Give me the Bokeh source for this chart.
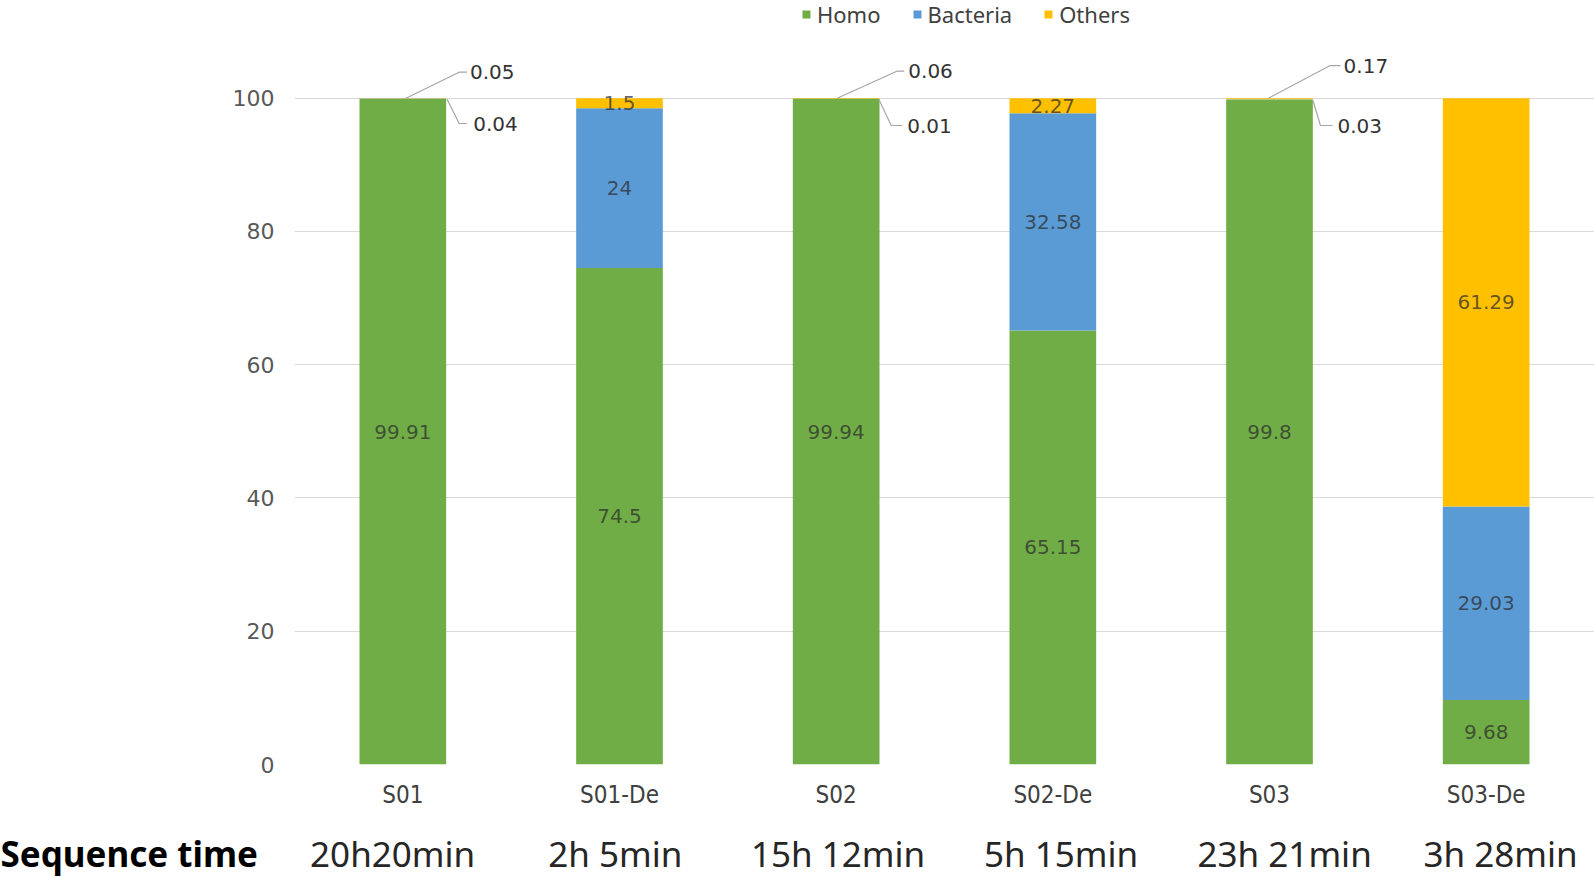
from bokeh.plotting import figure
from bokeh.models import ColumnDataSource, FixedTicker, Legend, LegendItem, Range1d
from bokeh.core.properties import value
from bokeh.embed import file_html
from bokeh.resources import INLINE

# ---------------- data ----------------
samples = ["S01", "S01-De", "S02", "S02-De", "S03", "S03-De"]
times = ["20h20min", "2h 5min", "15h 12min", "5h 15min", "23h 21min", "3h 28min"]
homo = [99.91, 74.5, 99.94, 65.15, 99.8, 9.68]
bacteria = [0.04, 24, 0.01, 32.58, 0.03, 29.03]
others = [0.05, 1.5, 0.06, 2.27, 0.17, 61.29]
series_names = ["Homo", "Bacteria", "Others"]
y_ticks = [0, 20, 40, 60, 80, 100]
row_title = "Sequence time"

# ---------------- styles / layout ----------------
colors = ["#70AD47", "#5B9BD5", "#FFC000"]
# callout leader geometry for tiny segments (offsets in category units, label y in data units)
others_dx = [(0.014, 0.26, 0.296, 0.31), (0.005, 0.28, 0.314, 0.333), (-0.005, 0.28, 0.328, 0.342)]
others_ly = [103.9, 104.05, 104.9]
bact_dx = [(0.204, 0.26, 0.296, 0.325), (0.197, 0.254, 0.305, 0.328), (0.2, 0.235, 0.291, 0.314)]
bact_ly = [96.2, 95.9, 95.9]
# horizontal nudges of the time texts (category units)
time_dx = [-0.047, -0.019, 0.009, 0.038, 0.07, 0.066]

W = 1594
LEFT = 294
CHART_H = 812
STRIP_H = 64
FRAME_H = 764
unit_px = (W - LEFT) / 6.0

xs = list(range(1, len(samples) + 1))
src = ColumnDataSource(dict(x=xs, Homo=homo, Bacteria=bacteria, Others=others))

p = figure(width=W, height=CHART_H, x_range=Range1d(0.5, 6.5), y_range=Range1d(0, 114.66),
           output_backend="svg", toolbar_location=None,
           min_border_left=LEFT, min_border_right=0, min_border_top=0,
           min_border_bottom=CHART_H - FRAME_H)
p.outline_line_color = None
p.background_fill_color = "white"
p.border_fill_color = "white"

rs = p.vbar_stack(series_names, x="x", width=0.4, color=colors, line_color=None, source=src)

# axes
p.yaxis.ticker = FixedTicker(ticks=y_ticks)
p.yaxis.axis_line_color = None
p.yaxis.major_tick_line_color = None
p.yaxis.minor_tick_line_color = None
p.yaxis.major_label_text_font = "DejaVu Sans"
p.yaxis.major_label_text_font_size = "22px"
p.yaxis.major_label_text_color = "#595959"
p.yaxis.major_label_standoff = 14

p.xaxis.ticker = FixedTicker(ticks=xs)
p.xaxis.major_label_overrides = {x: s for x, s in zip(xs, samples)}
p.xaxis.axis_line_color = None
p.xaxis.major_tick_line_color = None
p.xaxis.minor_tick_line_color = None
p.xaxis.major_label_text_font = "DejaVu Sans Condensed"
p.xaxis.major_label_text_font_size = "24px"
p.xaxis.major_label_text_color = "#404040"
p.xaxis.major_label_standoff = 10

p.xgrid.grid_line_color = None
p.ygrid.grid_line_color = "#D9D9D9"
p.ygrid.grid_line_width = 1

# data labels in the segments
lx, ly, lt = [], [], []
for i, x in enumerate(xs):
    bottom = 0
    for vals in (homo, bacteria, others):
        v = vals[i]
        if v >= 1:
            lx.append(x)
            ly.append(bottom + v / 2)
            lt.append(f"{v:g}")
        bottom += v
p.text(x=lx, y=ly, text=lt, text_align="center", text_baseline="middle",
       text_font=value("DejaVu Sans"), text_font_size="20px", text_color="#2b2b2b", text_alpha=0.72)

# callouts for tiny values
cx, cy, ct = [], [], []
lines_x, lines_y = [], []
k = 0
for i, x in enumerate(xs):
    if others[i] < 1 and bacteria[i] < 1:
        top = homo[i] + bacteria[i] + others[i]
        a, b, c, d = others_dx[k]
        lines_x.append([x + a, x + b, x + c])
        lines_y.append([min(top, 100), others_ly[k], others_ly[k]])
        cx.append(x + d); cy.append(others_ly[k]); ct.append(f"{others[i]:g}")
        a, b, c, d = bact_dx[k]
        lines_x.append([x + a, x + b, x + c])
        lines_y.append([homo[i] + bacteria[i] - 0.1, bact_ly[k], bact_ly[k]])
        cx.append(x + d); cy.append(bact_ly[k]); ct.append(f"{bacteria[i]:g}")
        k += 1
p.multi_line(xs=lines_x, ys=lines_y, line_color="#A6A6A6", line_width=1.2)
p.text(x=cx, y=cy, text=ct, text_align="left", text_baseline="middle",
       text_font=value("DejaVu Sans"), text_font_size="20px", text_color="#333333")

# legend
legend = Legend(items=[LegendItem(label=n, renderers=[r]) for n, r in zip(series_names, rs)],
                orientation="horizontal", location=(507, FRAME_H - 29),
                glyph_width=10, glyph_height=10, label_standoff=6, spacing=31,
                padding=0, margin=0, border_line_color=None, background_fill_alpha=0,
                label_text_font="Noto Sans", label_text_font_size="22px", label_text_color="#404040")
p.add_layout(legend)

# sequence-time row: a separate strip sharing the category scale, extended to the page's left edge
strip = figure(width=W, height=STRIP_H,
               x_range=Range1d(0.5 - LEFT / unit_px, 6.5), y_range=Range1d(0, 1),
               output_backend="svg", toolbar_location=None,
               min_border_left=0, min_border_right=0, min_border_top=0, min_border_bottom=0)
strip.axis.visible = False
strip.grid.visible = False
strip.outline_line_color = None
strip.background_fill_color = "white"
strip.border_fill_color = "white"
row_y = 1 - 41 / STRIP_H
strip.text(x=[x + d for x, d in zip(xs, time_dx)], y=[row_y] * len(xs), text=times,
           text_align="center", text_baseline="middle",
           text_font=value("Noto Sans"), text_font_size="35px", text_color="#262626")
strip.text(x=[0.5 - LEFT / unit_px], y=[row_y], text=[row_title], text_align="left",
           text_baseline="middle", text_font=value("Noto Sans"), text_font_size="35px",
           text_font_style="bold", text_color="#000000")

open("out.html", "w").write(file_html([p, strip], INLINE))
